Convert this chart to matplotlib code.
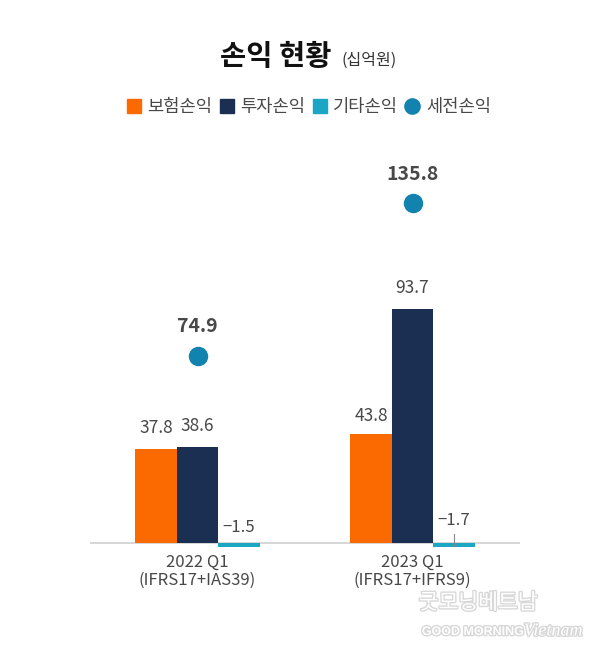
import matplotlib.pyplot as plt
import matplotlib.patheffects as pe
from matplotlib.lines import Line2D
from matplotlib.patches import Patch
import numpy as np

plt.rcParams['font.family'] = ['Noto Sans CJK KR', 'DejaVu Sans']

quarters = ['2022 Q1\n(IFRS17+IAS39)', '2023 Q1\n(IFRS17+IFRS9)']
insurance = [37.8, 43.8]
investment = [38.6, 93.7]
other = [-1.5, -1.7]
pretax = [74.9, 135.8]

names = ['보험손익', '투자손익', '기타손익', '세전손익']
colors = ['#fb6a00', '#1a2f52', '#1ba6c4', '#1282ae']
text_color = '#484848'

W, H = 600, 657
fig = plt.figure(figsize=(W / 100, H / 100), dpi=100, facecolor='white')
# 1 unit = 2.5 px, baseline at y=543
top, bottom = 130, 547
ax = fig.add_axes([90 / W, 1 - bottom / H, 430 / W, (bottom - top) / H])
ax.set_xlim(-0.5, 1.5)
ax.set_ylim(-(bottom - 543) / 2.5, (543 - top) / 2.5)
ax.axis('off')

x = np.arange(len(quarters))
width = 0.193
ax.axhline(0, color='#d0d0d0', lw=1.2, zorder=1)
ax.bar(x - width, insurance, width, color=colors[0], zorder=2)
ax.bar(x, investment, width, color=colors[1], zorder=2)
ax.bar(x + width, other, width, color=colors[2], zorder=2, clip_on=False)
ax.plot(x, pretax, 'o', color=colors[3], ms=14, mew=0, zorder=3)

# label offsets in points, they are not the same in the reference
ins_off = [11, 9]
inv_off = [11, 11]
oth_off = [8, 13]
for i in x:
    ax.annotate(f'{insurance[i]:.1f}', (i - width, insurance[i]), xytext=(0, ins_off[i]),
                textcoords='offset points', ha='center', va='baseline', fontsize=12.5, color=text_color)
    ax.annotate(f'{investment[i]:.1f}', (i, investment[i]), xytext=(0, inv_off[i]),
                textcoords='offset points', ha='center', va='baseline', fontsize=12.5, color=text_color)
    ax.annotate(f'\u2212{abs(other[i]):.1f}', (i + width, 0), xytext=(0, oth_off[i]),
                textcoords='offset points', ha='center', va='baseline', fontsize=12, color=text_color)
    ax.annotate(f'{pretax[i]:.1f}', (i, pretax[i]), xytext=(0, 17), textcoords='offset points',
                ha='center', va='baseline', fontsize=14, fontweight='bold', color=text_color)
    ax.text(i, -4.4, quarters[i], ha='center', va='top', fontsize=12, color=text_color,
            linespacing=1.08, clip_on=False)

# small leader on the second "other" bar
ax.plot([1 + width, 1 + width], [-1.7, 3.5], color='#888888', lw=0.8, zorder=4)

fig.text(276 / W, 1 - 57 / H, '손익 현황', ha='center', va='center', fontsize=20.5,
         fontweight='bold', color='#111111')
fig.text(369 / W, 1 - 60 / H, '(십억원)', ha='center', va='center', fontsize=11.5, color='#333333')

handles = [Patch(color=c) for c in colors[:3]]
handles.append(Line2D([], [], marker='o', ls='', color=colors[3], ms=12, mew=0))
fig.legend(handles, names, loc='center', bbox_to_anchor=(309 / W, 1 - 107 / H), ncol=4, frameon=False,
           fontsize=12.7, labelcolor=text_color, handlelength=0.8, handleheight=0.8,
           handletextpad=0.38, columnspacing=0.4, borderpad=0)

# watermark
shadow = [pe.withStroke(linewidth=2, foreground='#d8d8d8')]
fig.text(478 / W, 1 - 603 / H, '굿모닝베트남', ha='center', va='center', fontsize=15.5, color='white',
         style='italic', path_effects=shadow)
fig.text(473 / W, 1 - 632 / H, 'GOOD MORNING', ha='center', va='center', fontsize=9, fontweight='bold',
         color='white', path_effects=shadow, family=['Liberation Sans', 'DejaVu Sans'])
fig.text(553 / W, 1 - 631 / H, 'Vietnam', ha='center', va='center', fontsize=13, style='italic',
         color='white', path_effects=shadow, family=['Liberation Serif', 'DejaVu Sans'])

fig.savefig('out.png', dpi=100, facecolor='white')
